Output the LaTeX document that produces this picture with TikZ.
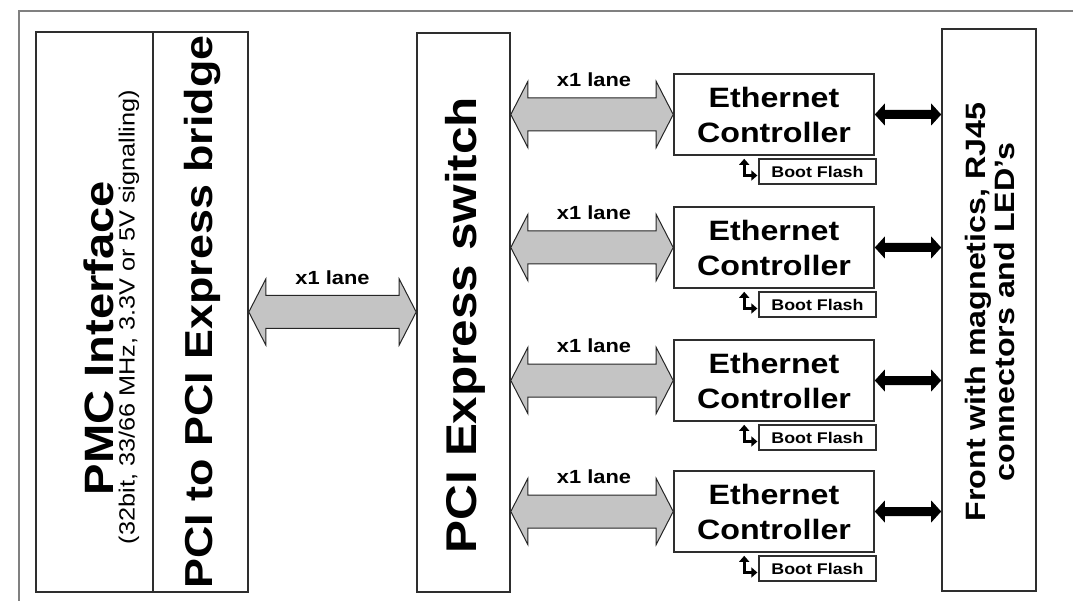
\documentclass[tikz,border=0pt]{standalone}
\usepackage{fontspec}
\setmainfont{Liberation Sans}[FakeStretch=1.15]
\usetikzlibrary{calc,arrows.meta}
\definecolor{boxline}{HTML}{2E2E2E}
\definecolor{framegray}{HTML}{808080}
\definecolor{arrowgray}{HTML}{C4C4C4}
\newcommand\lanearrow[2]{%
  \path[lanearr] let \p1=(#1), \p2=(#2) in
   (\x1,\y1) -- (\x1+17pt,\y1+33pt) -- (\x1+17pt,\y1+16.5pt) -- (\x2-17pt,\y1+16.5pt)
   -- (\x2-17pt,\y1+33pt) -- (\x2,\y1) -- (\x2-17pt,\y1-33pt) -- (\x2-17pt,\y1-16.5pt)
   -- (\x1+17pt,\y1-16.5pt) -- (\x1+17pt,\y1-33pt) -- cycle;}
\newcommand\blackarrow[2]{%
  \path[blkarr] let \p1=(#1), \p2=(#2) in
   (\x1,\y1) -- (\x1+10pt,\y1+11pt) -- (\x1+10pt,\y1+4.5pt) -- (\x2-10pt,\y1+4.5pt)
   -- (\x2-10pt,\y1+11pt) -- (\x2,\y1) -- (\x2-10pt,\y1-11pt) -- (\x2-10pt,\y1-4.5pt)
   -- (\x1+10pt,\y1-4.5pt) -- (\x1+10pt,\y1-11pt) -- cycle;}
\begin{document}
\begin{tikzpicture}[x=1pt,y=-1pt,
  blk/.style={draw=boxline, line width=1.6pt, fill=white, rectangle, inner sep=0pt},
  ecbox/.style={blk, minimum width=200pt, minimum height=81pt, align=center,
    font=\fontsize{28}{35}\selectfont\bfseries},
  bfbox/.style={blk, line width=1.3pt, minimum width=117pt, minimum height=25pt,
    font=\fontsize{15.5}{17}\selectfont\bfseries},
  lanearr/.style={draw=black!85, line width=1pt, fill=arrowgray, line join=miter},
  blkarr/.style={fill=black},
  lanelbl/.style={inner sep=0pt, font=\fontsize{19}{21}\selectfont\bfseries},
  bootarr/.style={line width=3pt, {Triangle[length=6pt,width=10pt]}-{Triangle[length=6pt,width=10pt]}},
  rottxt/.style={rotate=90, inner sep=0pt}
]
\useasboundingbox (0,0) rectangle (1073,601);
\fill[white] (0,0) rectangle (1073,601);
% outer frame
\draw[framegray, line width=2pt] (19,601) -- (19,11) -- (1073,11);

% left boxes
\node[blk, minimum width=117pt, minimum height=560pt] (pmc) at (94.5,312) {};
\node[blk, minimum width=95pt, minimum height=560pt] (br) at (200.5,312) {};
\node[rottxt, font=\fontsize{41}{46}\selectfont\bfseries] (pmct) at (99,338) {PMC Interface};
\node[rottxt, font=\fontsize{22}{25}\selectfont] (pmcs) at (129,317) {(32bit, 33/66 MHz, 3.3V or 5V signalling)};
\node[rottxt, font=\fontsize{39}{46}\selectfont\bfseries] (brt) at (202,312) {PCI to PCI Express bridge};

% switch
\node[blk, minimum width=93pt, minimum height=559pt] (sw) at (463.5,312.5) {};
\node[rottxt, font=\fontsize{43}{46}\selectfont\bfseries] (swt) at (465,325) {PCI Express switch};

% front
\node[blk, minimum width=94pt, minimum height=562pt] (front) at (989,310) {};
\node[rottxt, align=center, font=\fontsize{28}{29.5}\selectfont\bfseries] (frontt) at (990,312)
  {Front with magnetics, RJ45\\connectors and LED's};

% middle lane
\lanearrow{br.east}{sw.west}
\node[lanelbl] (l0) at ($(br.east)!0.5!(sw.west)+(0,-35)$) {x1 lane};

% ethernet controllers
\foreach \i/\y in {1/114.5, 2/247.5, 3/380.5, 4/511.5}{
  \node[ecbox] (ec\i) at (774,\y) {Ethernet\\Controller};
  \node[bfbox] (bf\i) at (817.5,\y+57) {Boot Flash};
  \lanearrow{sw.east |- ec\i.west}{ec\i.west}
  \node[lanelbl] (l\i) at ($(sw.east |- ec\i.west)!0.5!(ec\i.west)+(2,-35)$) {x1 lane};
  \blackarrow{ec\i.east}{front.west |- ec\i.east}
  \draw[bootarr] ($(ec\i.south west)+(71,3)$) |- ($(bf\i.west)+(-1,4)$);
}
\end{tikzpicture}
\end{document}
